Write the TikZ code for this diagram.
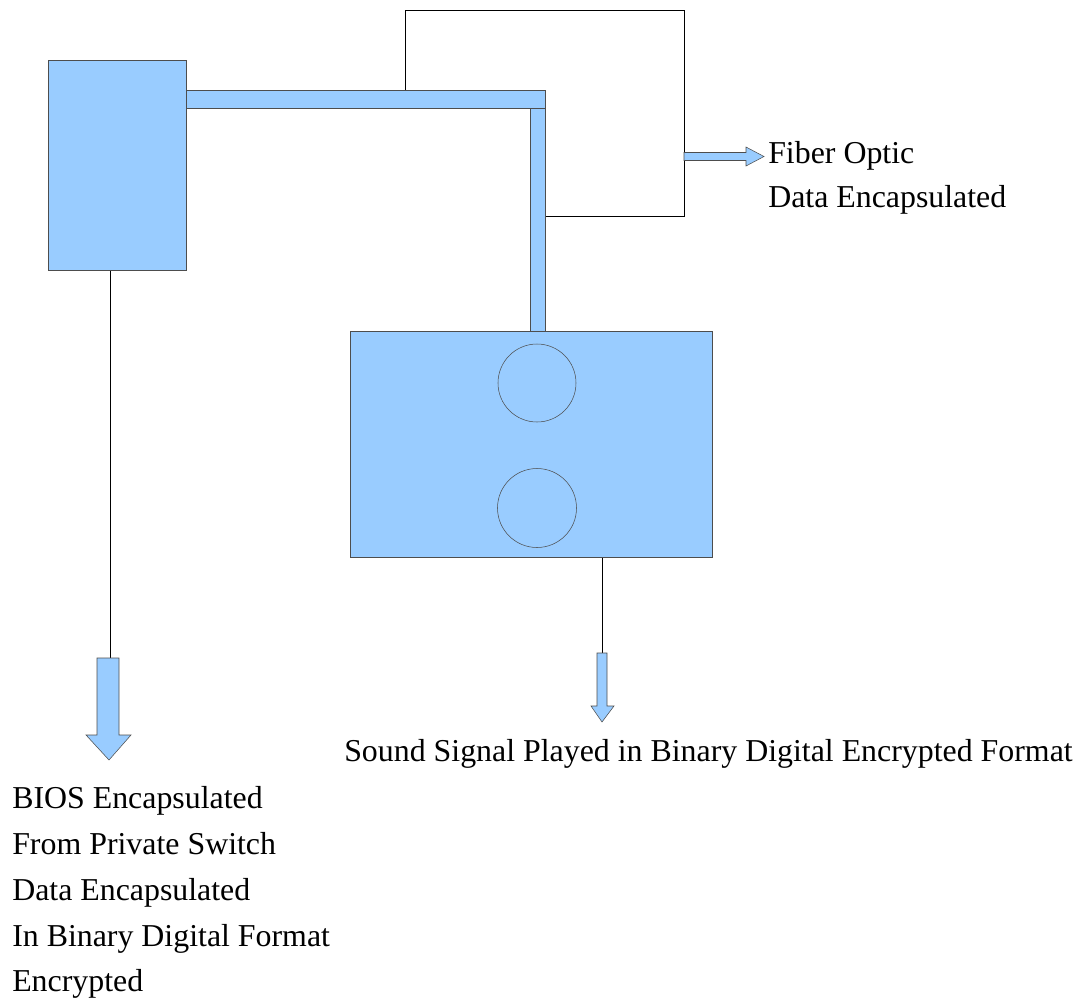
\documentclass[tikz,border=0pt]{standalone}
\usepackage{fontspec}
\setmainfont{Liberation Serif}
\usetikzlibrary{positioning, calc}

\definecolor{boxblue}{HTML}{99CCFF}
\definecolor{boxline}{HTML}{4D4D4D}

\begin{document}
\begin{tikzpicture}[x=0.75pt, y=-0.75pt]
	\tikzset{unit/.style={draw=boxline, fill=boxblue, inner sep=0pt, anchor=north west},
		bar/.style={draw=boxline, fill=boxblue},
		wire/.style={draw=black, line width=0.6pt},
		lbl/.style={anchor=base west, inner sep=0pt, font=\fontsize{23.9}{28}\selectfont}}
	\useasboundingbox (0,0) rectangle (1083,1004);

	\node[unit, minimum width=138*0.75pt, minimum height=210*0.75pt] (bios) at (48,60) {};
	\node[unit, minimum width=362*0.75pt, minimum height=226*0.75pt] (sound) at (350,331) {};
	\node[circle, bar, minimum size=78*0.75pt, inner sep=0pt] (c1) at (537,383) {};
	\node[circle, bar, minimum size=79*0.75pt, inner sep=0pt] (c2) at (537,508) {};

	% fiber loop
	\coordinate (f0) at (405,90);
	\coordinate (f1) at (545,216);
	\draw[wire] (f0) -- (405,10) -- (684,10) -- (684,216) -- (f1);

	% wide bars
	\draw[bar] (bios.north east |- 0,90) rectangle (545,108);
	\draw[bar] (530,108) rectangle (sound.north west -| 545,0);

	% outputs
	\draw[wire] (bios.south -| 110,0) -- (110,658);
	\draw[bar] (97,658) -- (119,658) -- (119,735) -- (131,735) -- (109,760) -- (86,735) -- (97,735) -- cycle;
	\draw[wire] (sound.south -| 602,0) -- (602,653);
	\draw[bar] (597,653) -- (607,653) -- (607,706) -- (614,706) -- (602,722) -- (591,706) -- (597,706) -- cycle;
	\draw[bar] (684,152.5) -- (746,152.5) -- (746,147) -- (764,156.5) -- (746,166) -- (746,160.5) -- (684,160.5) -- cycle;

	\node[lbl] (fo1) at (768,163) {Fiber Optic};
	\node[lbl] (fo2) at (768,207) {Data Encapsulated};
	\node[lbl] (snd) at (344,761) {Sound Signal Played in Binary Digital Encrypted Format};
	\node[lbl] (b1) at (12,808) {BIOS Encapsulated};
	\node[lbl] (b2) at (12,854) {From Private Switch};
	\node[lbl] (b3) at (12,900) {Data Encapsulated};
	\node[lbl] (b4) at (12,946) {In Binary Digital Format};
	\node[lbl] (b5) at (12,991) {Encrypted};
\end{tikzpicture}
\end{document}
